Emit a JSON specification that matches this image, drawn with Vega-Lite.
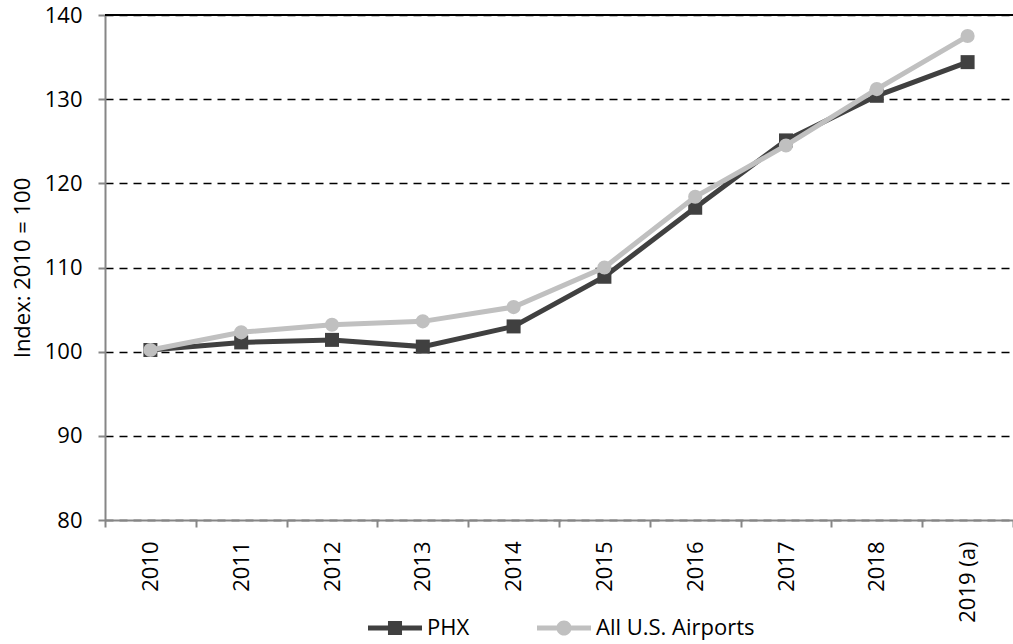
{
  "$schema": "https://vega.github.io/schema/vega-lite/v6.json",
  "autosize": "none",
  "padding": {"left": 105, "top": 15, "right": 0, "bottom": 124},
  "width": 908,
  "height": 505,
  "config": {
    "view": {"stroke": null},
    "font": "Open Sans"
  },
  "data": {
    "values": [
      {"year": "2010", "series": "PHX", "value": 100.2},
      {"year": "2011", "series": "PHX", "value": 101.1},
      {"year": "2012", "series": "PHX", "value": 101.4},
      {"year": "2013", "series": "PHX", "value": 100.6},
      {"year": "2014", "series": "PHX", "value": 103.0},
      {"year": "2015", "series": "PHX", "value": 108.9},
      {"year": "2016", "series": "PHX", "value": 117.1},
      {"year": "2017", "series": "PHX", "value": 125.1},
      {"year": "2018", "series": "PHX", "value": 130.4},
      {"year": "2019 (a)", "series": "PHX", "value": 134.4},
      {"year": "2010", "series": "All U.S. Airports", "value": 100.2},
      {"year": "2011", "series": "All U.S. Airports", "value": 102.3},
      {"year": "2012", "series": "All U.S. Airports", "value": 103.2},
      {"year": "2013", "series": "All U.S. Airports", "value": 103.6},
      {"year": "2014", "series": "All U.S. Airports", "value": 105.3},
      {"year": "2015", "series": "All U.S. Airports", "value": 110.0},
      {"year": "2016", "series": "All U.S. Airports", "value": 118.4},
      {"year": "2017", "series": "All U.S. Airports", "value": 124.5},
      {"year": "2018", "series": "All U.S. Airports", "value": 131.2},
      {"year": "2019 (a)", "series": "All U.S. Airports", "value": 137.5}
    ]
  },
  "encoding": {
    "x": {
      "field": "year", "type": "ordinal", "title": null,
      "scale": {"paddingInner": 0, "paddingOuter": 0},
      "axis": {
        "tickBand": "extent", "labelAngle": -90, "labelFontSize": 22, "labelColor": "black",
        "labelFont": "Open Sans", "domainColor": "#868686", "domainWidth": 2,
        "tickColor": "#868686", "tickWidth": 2, "tickSize": 7, "labelPadding": 14, "grid": false
      }
    },
    "y": {
      "field": "value", "type": "quantitative", "title": "Index: 2010 = 100",
      "scale": {"domain": [80, 140], "nice": false, "zero": false},
      "axis": {
        "values": [80, 90, 100, 110, 120, 130, 140],
        "labelFontSize": 22, "labelColor": "black", "labelFont": "Open Sans",
        "titleFontSize": 22, "titleFont": "Open Sans", "titleFontWeight": "normal", "titleColor": "black",
        "titlePadding": 10,
        "domainColor": "#868686", "domainWidth": 2, "tickColor": "#868686", "tickWidth": 2, "tickSize": 7,
        "labelPadding": 16, "grid": true, "gridColor": "black", "gridDash": [8, 6], "gridWidth": 1.6
      }
    },
    "color": {
      "field": "series", "type": "nominal",
      "scale": {"domain": ["PHX", "All U.S. Airports"], "range": ["#404040", "#c0c0c0"]},
      "legend": {
        "orient": "none", "legendX": 263, "legendY": 586, "direction": "horizontal", "title": null,
        "symbolSize": 2916, "labelFontSize": 22, "labelFont": "Open Sans", "labelColor": "black",
        "labelOffset": 5, "columnPadding": 67,
        "encode": {
          "symbols": {
            "update": {
              "shape": {"signal": "datum.value === 'PHX' ? 'M -1 -0.09 L 1 -0.09 L 1 0.09 L -1 0.09 Z M -0.26 -0.26 L 0.26 -0.26 L 0.26 0.26 L -0.26 0.26 Z' : 'M -1 -0.09 L 1 -0.09 L 1 0.09 L -1 0.09 Z M -0.28 0 A 0.28 0.28 0 1 1 0.28 0 A 0.28 0.28 0 1 1 -0.28 0 Z'"},
              "fill": {"signal": "datum.value === 'PHX' ? '#404040' : '#c0c0c0'"},
              "stroke": {"value": "transparent"},
              "strokeWidth": {"value": 0},
              "opacity": {"value": 1},
              "fillOpacity": {"value": 1}
            }
          }
        }
      }
    }
  },
  "layer": [
    {
      "mark": {"type": "rule", "color": "black", "strokeWidth": 1.5},
      "encoding": {"y": {"datum": 140}, "x": {}, "color": {}}
    },
    {
      "transform": [{"filter": "datum.series === 'PHX'"}],
      "mark": {"type": "line", "strokeWidth": 5}
    },
    {
      "transform": [{"filter": "datum.series === 'PHX'"}],
      "mark": {"type": "point", "shape": "square", "filled": true, "size": 196, "opacity": 1}
    },
    {
      "transform": [{"filter": "datum.series === 'All U.S. Airports'"}],
      "mark": {"type": "line", "strokeWidth": 5}
    },
    {
      "transform": [{"filter": "datum.series === 'All U.S. Airports'"}],
      "mark": {"type": "point", "shape": "circle", "filled": true, "size": 200, "opacity": 1}
    }
  ]
}
